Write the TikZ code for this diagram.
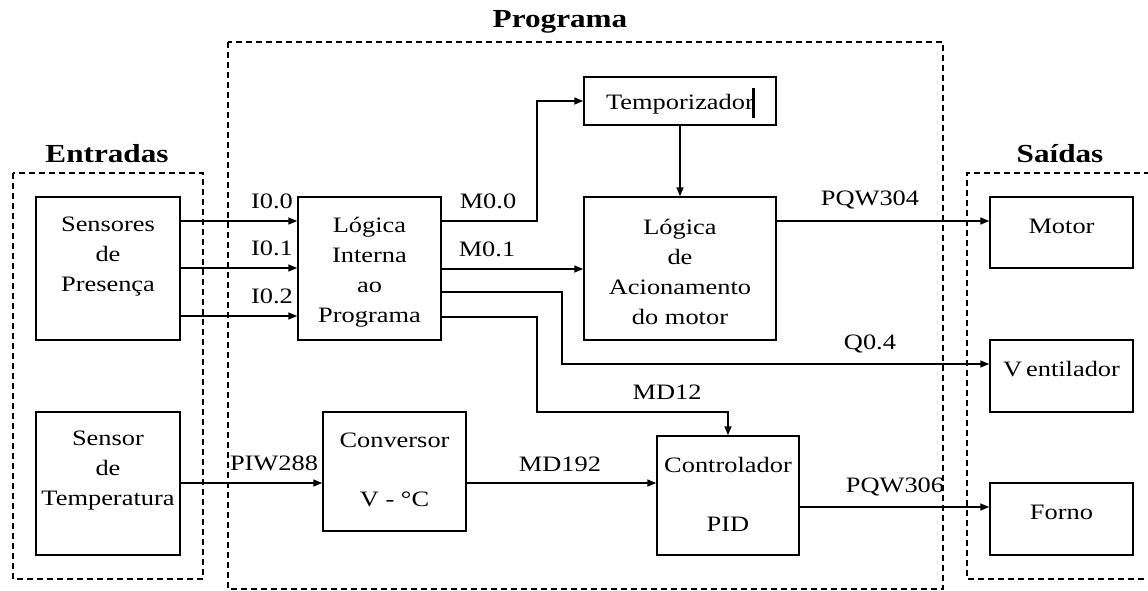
\documentclass[tikz,border=0pt]{standalone}
\usepackage{fontspec}
\setmainfont{Liberation Serif}[FakeStretch=1.2]
\usetikzlibrary{arrows.meta}
\tikzset{
  box/.style={draw, line width=1.5pt, inner sep=0pt, fill=white},
  txt/.style={inner sep=0pt, align=center, font=\fontsize{22}{30}\selectfont},
  lbl/.style={inner sep=0pt, font=\fontsize{22}{30}\selectfont},
  ttl/.style={inner sep=0pt, font=\fontsize{26}{30}\selectfont\bfseries},
  grp/.style={draw, line width=1.4pt, dash pattern=on 6pt off 4pt},
  arr/.style={line width=1.5pt, -{Triangle[length=9pt,width=7pt]}},
  ln/.style={line width=1.5pt}
}
\begin{document}
\begin{tikzpicture}[x=1pt,y=-1pt]
\useasboundingbox (0,0) rectangle (1148,590);
% groups
\draw[grp] (13,173) rectangle (203,579);
\draw[grp] (228,42) rectangle (943,589);
\draw[grp] (1160,173) -- (967,173) -- (967,579) -- (1160,579);
\node[ttl] (tEnt) at (107,154) {Entradas};
\node[ttl] (tProg) at (560,22) {Programa};
\node[ttl] (tSai) at (1060,154) {Saídas};
% boxes
\node[box, minimum width=144, minimum height=143] (sp) at (108,268.5) {};
\node[txt] (spt) at (108,257) {Sensores\\de\\Presença};
\node[box, minimum width=144, minimum height=143] (st) at (108,483.5) {};
\node[txt] (stt) at (108,471) {Sensor\\de\\Temperatura};
\node[box, minimum width=143, minimum height=143] (li) at (369.5,268.5) {};
\node[txt] (lit) at (369.5,272) {Lógica\\Interna\\ao\\Programa};
\node[box, minimum width=192, minimum height=48] (tm) at (680,101) {};
\node[txt] (tmt) at (680,104) {Temporizador};
\draw[line width=3pt] (753,88) -- (753,118);
\node[box, minimum width=192, minimum height=143] (la) at (680,268.5) {};
\node[txt] (lat) at (680,272) {Lógica\\de\\Acionamento\\do motor};
\node[box, minimum width=143, minimum height=119] (cv) at (394.5,471.5) {};
\node[txt] (cvt) at (394.5,470) {Conversor\\[29pt]V - °C};
\node[box, minimum width=142, minimum height=119] (pid) at (728,495.5) {};
\node[txt] (pidt) at (728,494) {Controlador\\[29pt]PID};
\node[box, minimum width=143, minimum height=71] (mo) at (1061.5,232.5) {};
\node[txt] (mot) at (1061.5,226) {Motor};
\node[box, minimum width=143, minimum height=72] (ve) at (1061.5,376) {};
\node[txt] (vet) at (1061.5,369) {V\kern4pt entilador};
\node[box, minimum width=143, minimum height=72] (fo) at (1061.5,519) {};
\node[txt] (fot) at (1061.5,512) {Forno};
% connectors
\draw[arr] (sp.east |- 0,221) -- (li.west |- 0,221);
\draw[arr] (sp.east |- 0,268) -- (li.west |- 0,268);
\draw[arr] (sp.east |- 0,316) -- (li.west |- 0,316);
\node[lbl] (l00) at (272,201) {I0.0};
\node[lbl] (l01) at (272,248) {I0.1};
\node[lbl] (l02) at (272,296) {I0.2};
\coordinate (m0a) at (537,221);
\coordinate (m0b) at (537,101);
\draw[arr] (li.east |- m0a) -- (m0a) -- (m0b) -- (tm.west |- m0b);
\node[lbl] (lm00) at (488,201) {M0.0};
\draw[arr] (li.east |- 0,269) -- (la.west |- 0,269);
\node[lbl] (lm01) at (487,249) {M0.1};
\draw[arr] (tm.south) -- (la.north);
\draw[arr] (la.east |- 0,221) -- (mo.west |- 0,221);
\node[lbl] (lpq4) at (870,200) {PQW304};
\coordinate (qa) at (562,292);
\coordinate (qb) at (562,364);
\draw[arr] (li.east |- qa) -- (qa) -- (qb) -- (ve.west |- qb);
\node[lbl] (lq04) at (870,344) {Q0.4};
\coordinate (da) at (537,317);
\coordinate (db) at (537,412);
\draw[arr] (li.east |- da) -- (da) -- (db) -- (pid.north |- db) -- (pid.north);
\node[lbl] (lmd12) at (667,392) {MD12};
\draw[arr] (st.east |- 0,483) -- (cv.west |- 0,483);
\node[lbl] (lpiw) at (274,463) {PIW288};
\draw[arr] (cv.east |- 0,483) -- (pid.west |- 0,483);
\node[lbl] (lmd192) at (560,464) {MD192};
\draw[arr] (pid.east |- 0,507) -- (fo.west |- 0,507);
\node[lbl] (lpq6) at (895,487) {PQW306};
\end{tikzpicture}
\end{document}
